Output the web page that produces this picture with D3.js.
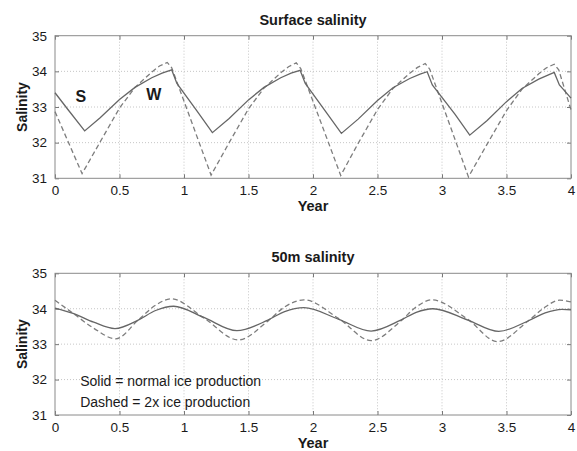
<!DOCTYPE html>
<html>
<head>
<meta charset="utf-8">
<script src="https://cdn.jsdelivr.net/npm/d3@7"></script>
<style>
  html, body { margin: 0; padding: 0; background: #fff; }
  svg { display: block; }
  text { font-family: "Liberation Sans", Arial, Helvetica, sans-serif; fill: #1a1a1a; }
</style>
</head>
<body>
<svg id="chart" width="577" height="451"></svg>
<script>
// ---------------- DATA ----------------
const xTicks = [0, 0.5, 1, 1.5, 2, 2.5, 3, 3.5, 4];
const yTicks = [31, 32, 33, 34, 35];

// Surface salinity, solid = normal ice production
const surfSolidYears = [0, 0.1, 0.23, 0.35, 0.5, 0.62, 0.75, 0.83, 0.905, 0.945,
  1.1, 1.22, 1.35, 1.5, 1.62, 1.75, 1.83, 1.9, 1.94,
  2.1, 2.22, 2.35, 2.5, 2.62, 2.75, 2.83, 2.885, 2.925,
  3.1, 3.215, 3.35, 3.5, 3.62, 3.75, 3.83, 3.87, 3.91, 4.0];
const surfSolid = [33.40, 32.93, 32.33, 32.70, 33.21, 33.55, 33.82, 33.95, 34.04, 33.66,
  32.89, 32.28, 32.68, 33.20, 33.55, 33.82, 33.95, 34.03, 33.66,
  32.86, 32.26, 32.66, 33.18, 33.54, 33.80, 33.92, 33.99, 33.62,
  32.80, 32.21, 32.62, 33.15, 33.52, 33.78, 33.91, 33.97, 33.62, 33.25];

// Surface salinity, dashed = 2x ice production
const surfDashedYears = [0, 0.21, 0.35, 0.5, 0.62, 0.75, 0.81, 0.87, 0.905,
  1.21, 1.35, 1.5, 1.62, 1.75, 1.81, 1.87, 1.905,
  2.215, 2.35, 2.5, 2.62, 2.75, 2.81, 2.87, 2.905,
  3.205, 3.35, 3.5, 3.62, 3.75, 3.81, 3.87, 3.905, 4.0];
const surfDashed = [32.87, 31.13, 32.02, 32.97, 33.55, 33.98, 34.15, 34.25, 34.10,
  31.09, 32.00, 32.95, 33.53, 33.96, 34.13, 34.24, 34.08,
  31.08, 31.98, 32.93, 33.52, 33.95, 34.11, 34.22, 34.06,
  31.04, 31.96, 32.90, 33.50, 33.93, 34.10, 34.20, 34.04, 32.92];

// 50m salinity, solid
const deepSolidYears = [0, 0.14, 0.3, 0.465, 0.645, 0.78, 0.92, 1.15, 1.41, 1.65, 1.78, 1.93,
  2.2, 2.45, 2.68, 2.8, 2.93, 3.2, 3.44, 3.67, 3.8, 3.93, 4.0];
const deepSolid = [34.02, 33.87, 33.62, 33.44, 33.68, 33.95, 34.07, 33.76, 33.38, 33.68, 33.92, 34.03,
  33.70, 33.37, 33.68, 33.90, 34.00, 33.68, 33.36, 33.66, 33.88, 33.98, 33.97];

// 50m salinity, dashed
const deepDashedYears = [0, 0.14, 0.3, 0.47, 0.645, 0.78, 0.9, 1.15, 1.42, 1.65, 1.78, 1.93,
  2.2, 2.45, 2.68, 2.8, 2.92, 3.2, 3.43, 3.66, 3.79, 3.91, 4.0];
const deepDashed = [34.24, 33.87, 33.45, 33.15, 33.68, 34.10, 34.28, 33.75, 33.12, 33.65, 34.05, 34.25,
  33.72, 33.10, 33.65, 34.05, 34.25, 33.70, 33.07, 33.63, 34.02, 34.24, 34.19];

const titles = ["Surface salinity", "50m salinity"];
const legendLines = ["Solid = normal ice production", "Dashed = 2x ice production"];

// ---------------- DRAW ----------------
const svg = d3.select("#chart");
const left = 55, right = 571;
const panels = [
  { top: 35.7, bottom: 178.3, title: titles[0],
    solid: surfSolidYears.map((t, i) => [t, surfSolid[i]]),
    dashed: surfDashedYears.map((t, i) => [t, surfDashed[i]]),
    curve: d3.curveLinear },
  { top: 273.3, bottom: 415, title: titles[1],
    solid: deepSolidYears.map((t, i) => [t, deepSolid[i]]),
    dashed: deepDashedYears.map((t, i) => [t, deepDashed[i]]),
    curve: d3.curveMonotoneX }
];

const x = d3.scaleLinear().domain([0, 4]).range([left, right]);

panels.forEach((p, pi) => {
  const y = d3.scaleLinear().domain([31, 35]).range([p.bottom, p.top]);
  const g = svg.append("g");

  // grid
  g.append("g").selectAll("line.vx").data(xTicks.slice(1, -1)).join("line")
    .attr("x1", d => x(d)).attr("x2", d => x(d))
    .attr("y1", p.top).attr("y2", p.bottom)
    .attr("stroke", "#b8b8b8").attr("stroke-width", 0.8).attr("stroke-dasharray", "1,2");
  g.append("g").selectAll("line.hy").data(yTicks.slice(1, -1)).join("line")
    .attr("x1", left).attr("x2", right)
    .attr("y1", d => y(d)).attr("y2", d => y(d))
    .attr("stroke", "#b8b8b8").attr("stroke-width", 0.8).attr("stroke-dasharray", "1,2");

  // axes (ticks inside)
  const xAxis = d3.axisBottom(x).tickValues(xTicks).tickSizeInner(-4).tickSizeOuter(0)
    .tickPadding(7).tickFormat(d3.format("~g"));
  const gx = g.append("g").attr("transform", `translate(0,${p.bottom})`).call(xAxis);
  const yAxis = d3.axisLeft(y).tickValues(yTicks).tickSizeInner(-4).tickSizeOuter(0)
    .tickPadding(8).tickFormat(d3.format("d"));
  const gy = g.append("g").attr("transform", `translate(${left},0)`).call(yAxis);
  const xTop = d3.axisTop(x).tickValues(xTicks).tickSizeInner(-4).tickSizeOuter(0).tickFormat("");
  const gxt = g.append("g").attr("transform", `translate(0,${p.top})`).call(xTop);
  const yRight = d3.axisRight(y).tickValues(yTicks).tickSizeInner(-4).tickSizeOuter(0).tickFormat("");
  const gyr = g.append("g").attr("transform", `translate(${right},0)`).call(yRight);
  [gx, gy, gxt, gyr].forEach(a => {
    a.select(".domain").remove();
    a.selectAll(".tick line").attr("stroke", "#777");
    a.selectAll(".tick text").style("font-size", "13.5px").attr("fill", "#1a1a1a")
      .style("font-family", "'Liberation Sans', Arial, sans-serif");
  });

  // box
  g.append("rect").attr("x", left).attr("y", p.top)
    .attr("width", right - left).attr("height", p.bottom - p.top)
    .attr("fill", "none").attr("stroke", "#8a8a8a").attr("stroke-width", 1);

  // lines
  const line = d3.line().x(d => x(d[0])).y(d => y(d[1])).curve(p.curve);
  g.append("path").datum(p.dashed).attr("d", line)
    .attr("fill", "none").attr("stroke", "#7d7d7d").attr("stroke-width", 1.3)
    .attr("stroke-dasharray", "5,3");
  g.append("path").datum(p.solid).attr("d", line)
    .attr("fill", "none").attr("stroke", "#666").attr("stroke-width", 1.3);

  // title
  g.append("text").attr("x", (left + right) / 2).attr("y", p.top - 11)
    .attr("text-anchor", "middle").style("font-size", "14.5px").style("font-weight", "bold")
    .text(p.title);
  // x label
  g.append("text").attr("x", (left + right) / 2).attr("y", p.bottom + 32.6)
    .attr("text-anchor", "middle").style("font-size", "14.5px").style("font-weight", "bold")
    .text("Year");
  // y label
  g.append("text").attr("transform", `translate(27,${(p.top + p.bottom) / 2}) rotate(-90)`)
    .attr("text-anchor", "middle").style("font-size", "14px").style("font-weight", "bold")
    .text("Salinity");

  if (pi === 0) {
    g.append("text").attr("x", x(0.2)).attr("y", y(33.3))
      .attr("text-anchor", "middle").attr("dominant-baseline", "central")
      .style("font-size", "16px").style("font-weight", "bold").text("S");
    g.append("text").attr("x", x(0.765)).attr("y", y(33.35))
      .attr("text-anchor", "middle").attr("dominant-baseline", "central")
      .style("font-size", "16px").style("font-weight", "bold").text("W");
  } else {
    legendLines.forEach((t, i) => {
      g.append("text").attr("x", x(0.195)).attr("y", y(i === 0 ? 31.97 : 31.38))
        .attr("dominant-baseline", "central").style("font-size", "14px").text(t);
    });
  }
});
</script>
</body>
</html>
